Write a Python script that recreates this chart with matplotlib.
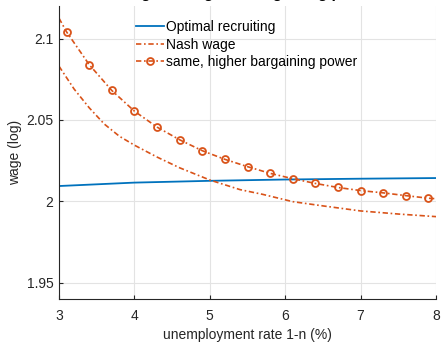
import numpy as np
import matplotlib
matplotlib.use('Agg')
import matplotlib.pyplot as plt

# optimal recruiting wage
opt_x = [3, 4, 5, 6, 7, 8]
opt_y = [2.0094, 2.0115, 2.0126, 2.0134, 2.0139, 2.0143]

# Nash wage
nash_x = [3.0, 3.2, 3.4, 3.6, 3.8, 4.0, 4.3, 4.6, 5.0, 5.4, 5.7, 6.1, 6.5, 7.0, 7.5, 8.0]
nash_y = [2.0830, 2.0690, 2.0575, 2.0475, 2.0400, 2.0345, 2.0272, 2.0206, 2.0131,
          2.0072, 2.0043, 1.9998, 1.9972, 1.9941, 1.9922, 1.9906]

# same, higher bargaining power (markers every 0.3 from 3.1 to 7.9)
high_x = [3.0, 3.1, 3.4, 3.7, 4.0, 4.3, 4.6, 4.9, 5.2, 5.5, 5.8, 6.1,
          6.4, 6.7, 7.0, 7.3, 7.6, 7.9, 8.0]
high_y = [2.1125, 2.1041, 2.0840, 2.0681, 2.0554, 2.0456, 2.0378, 2.0311,
          2.0258, 2.0213, 2.0172, 2.0139, 2.0110, 2.0085, 2.0066, 2.0052,
          2.0035, 2.0019, 2.0016]

xticks = [3, 4, 5, 6, 7, 8]
yticks = [1.95, 2.0, 2.05, 2.1]
yticklabels = ['1.95', '2', '2.05', '2.1']

blue = '#0072BD'
orange = '#D95319'
dashdot = (0, (3.2, 1.6, 1.0, 1.6))

plt.rcParams['font.family'] = ['Liberation Sans', 'DejaVu Sans']
plt.rcParams['font.size'] = 10

fig = plt.figure(figsize=(4.41, 3.44), dpi=100)
ax = fig.add_axes([0.1338, 0.1308, 0.8549, 0.8518])

ax.plot(opt_x, opt_y, color=blue, lw=1.3, label='Optimal recruiting')
ax.plot(nash_x, nash_y, color=orange, lw=1.2, ls=dashdot, label='Nash wage')
ax.plot(high_x, high_y, color=orange, lw=1.2, ls=dashdot, marker='o', ms=5,
        mfc='none', mew=1.3, markevery=list(range(1, len(high_x) - 1)),
        label='same, higher bargaining power')

ax.set_xlim(3, 8)
ax.set_ylim(1.94, 2.12)
ax.set_xticks(xticks)
ax.set_yticks(yticks)
ax.set_yticklabels(yticklabels)
ax.grid(True, color='#e3e3e3', lw=0.8)
ax.set_axisbelow(True)
for s in ['top', 'right']:
    ax.spines[s].set_visible(False)
for s in ['left', 'bottom']:
    ax.spines[s].set_color('#262626')
    ax.spines[s].set_linewidth(0.8)
ax.tick_params(direction='in', length=3, colors='#262626', labelcolor='#262626')
ax.tick_params(axis='x', pad=7)
ax.tick_params(axis='y', pad=4)

ax.set_xlabel('unemployment rate 1-n (%)', color='#262626', labelpad=3.5)
ax.set_ylabel('wage (log)', color='#262626', labelpad=3)
ax.set_title('Wage setting and bargaining power', fontsize=11, fontweight='bold', pad=6)

ax.legend(loc='upper left', bbox_to_anchor=(0.178, 0.985), frameon=False,
          handlelength=2.0, handletextpad=0.2, labelspacing=0.25, borderpad=0.2)

fig.savefig('out.png', dpi=100)
